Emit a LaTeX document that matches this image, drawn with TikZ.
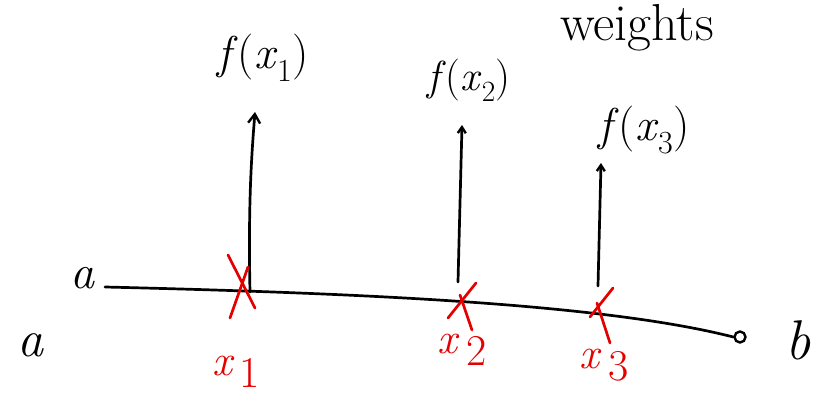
\documentclass[tikz,border=0pt]{standalone}
\usepackage{fontspec}
\usetikzlibrary{arrows.meta}
\begin{document}
\begin{tikzpicture}[x=1pt,y=-1pt,
  ink/.style={line width=2.7pt,line cap=round,line join=round},
  redink/.style={draw=red!90!black,line width=2.7pt,line cap=round},
  lbl/.style={inner sep=0pt,font=\fontsize{50}{52}\selectfont},
  redlbl/.style={inner sep=0pt,text=red!90!black,font=\fontsize{44}{46}\selectfont\itshape},
  tipA/.style={-{Straight Barb[length=9pt,width=12pt,line width=2.4pt]}},
  tipB/.style={-{Straight Barb[length=6pt,width=8pt,line width=2.4pt]}}]
\useasboundingbox (0,0) rectangle (815,398);
% axis
\coordinate (A0) at (105,287);
\node[draw,circle,minimum size=11pt,inner sep=0pt,line width=2.4pt] (bc) at (740,337) {};
\draw[ink] (A0) .. controls (350,293) and (600,303) .. (bc.west);
% endpoint labels
\node[lbl,font=\fontsize{48}{50}\selectfont\itshape] (asmall) at (82,278) {a};
\node[lbl,font=\fontsize{52}{54}\selectfont\itshape] (abig) at (30,345) {a};
\node[lbl,font=\fontsize{56}{58}\selectfont\itshape] (bb) at (798,340) {b};
% points on axis
\coordinate (p1) at (250,292);
\coordinate (p2) at (458,282);
\coordinate (p3) at (598,286);
\coordinate (t1) at (255,112);
\coordinate (t2) at (462,125);
\coordinate (t3) at (601,163);
\draw[ink,tipA] (p1) .. controls (248,200) and (252,150) .. (t1);
\draw[ink,tipB] (p2) -- (t2);
\draw[ink,tipB] (p3) -- (t3);
% function values
\node[lbl,font=\fontsize{46}{48}\selectfont] (f1) at (263,58) {\textit{f}(\textit{x}\textsubscript{1})};
\node[lbl,font=\fontsize{42}{44}\selectfont] (f2) at (469,80) {\textit{f}(\textit{x}\textsubscript{2})};
\node[lbl,font=\fontsize{46}{48}\selectfont] (f3) at (644,130) {\textit{f}(\textit{x}\textsubscript{3})};
\node[lbl,font=\fontsize{52}{54}\selectfont] (w) at (637,28) {weights};
% red crosses
\coordinate (c1a) at (228,255); \coordinate (c1b) at (255,308);
\coordinate (c1c) at (248,267); \coordinate (c1d) at (230,318);
\draw[redink] (c1a) -- (c1b); \draw[redink] (c1c) -- (c1d);
\coordinate (c2a) at (476,283); \coordinate (c2b) at (448,318);
\coordinate (c2c) at (460,295); \coordinate (c2d) at (472,330);
\draw[redink] (c2a) -- (c2b); \draw[redink] (c2c) -- (c2d);
\coordinate (c3a) at (613,288); \coordinate (c3b) at (590,317);
\coordinate (c3c) at (597,303); \coordinate (c3d) at (610,343);
\draw[redink] (c3a) -- (c3b); \draw[redink] (c3c) -- (c3d);
% red labels
\node[redlbl] (x1) at (236,372) {x\kern7pt\raisebox{-12pt}{\upshape 1}};
\node[redlbl] (x2) at (462,350) {x\kern9pt\raisebox{-12pt}{\upshape 2}};
\node[redlbl] (x3) at (604,365) {x\kern9pt\raisebox{-12pt}{\upshape 3}};
\end{tikzpicture}
\end{document}
